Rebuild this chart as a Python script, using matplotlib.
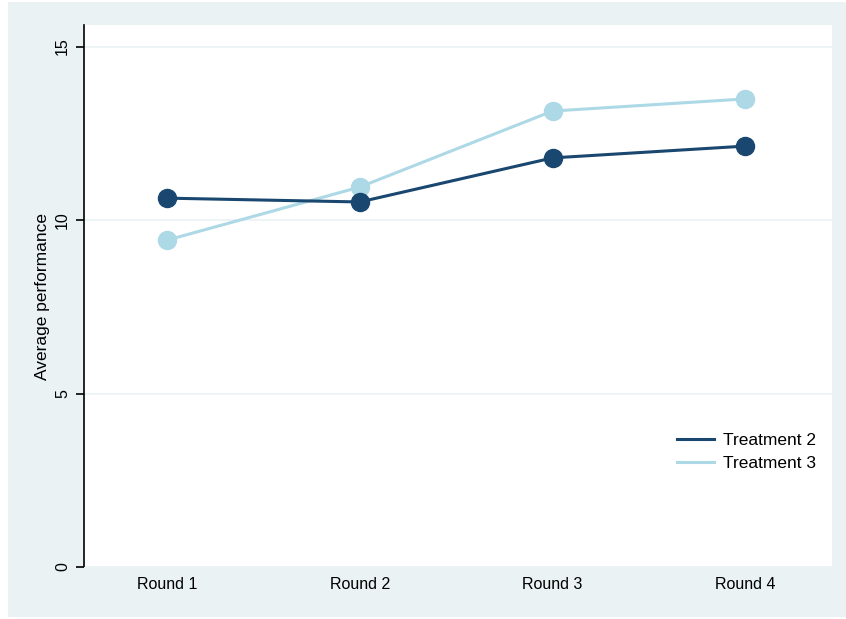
import numpy as np
import matplotlib.pyplot as plt
from matplotlib.patches import Rectangle

plt.rcParams['font.family'] = ['Liberation Sans', 'DejaVu Sans']

rounds = ['Round 1', 'Round 2', 'Round 3', 'Round 4']
treat2 = [10.63, 10.52, 11.79, 12.13]
treat3 = [9.42, 10.95, 13.14, 13.49]

navy = '#1a476f'
ltblue = '#add8e6'
bg = '#eaf2f3'

fig = plt.figure(figsize=(8.46, 6.19), dpi=100, facecolor='white')
# outer light panel
fig.patches.append(Rectangle((8 / 846, 2 / 619), 838 / 846, 615 / 619,
                             transform=fig.transFigure, facecolor=bg,
                             edgecolor='none', zorder=-10))

ax = fig.add_axes([84 / 846, 1 - 567 / 619, (832 - 84) / 846, (567 - 25) / 619])
ax.set_facecolor('white')

x = np.arange(1, len(rounds) + 1)
ax.plot(x, treat2, color=navy, lw=2.2, marker='o', ms=13, label='Treatment 2', zorder=3)
ax.plot(x, treat3, color=ltblue, lw=2.2, marker='o', ms=13, label='Treatment 3', zorder=2)

ax.set_xlim(0.569, 4.45)
ax.set_ylim(0, 15.62)
ax.set_yticks([0, 5, 10, 15])
ax.set_xticks(x)
ax.set_xticklabels(rounds)
ax.yaxis.grid(True, color=bg, lw=1.2)
ax.set_axisbelow(True)

for s in ['top', 'right']:
    ax.spines[s].set_visible(False)
ax.spines['bottom'].set_color(bg)
ax.spines['left'].set_color('black')
ax.spines['left'].set_linewidth(1.2)

ax.tick_params(axis='x', length=0, pad=7, labelsize=11.5)
ax.tick_params(axis='y', length=6, width=1.2, pad=4, labelsize=11.5)
for lbl in ax.get_yticklabels():
    lbl.set_rotation(90)
    lbl.set_va('center')

ax.set_ylabel('Average performance', fontsize=12.5, labelpad=4)

leg = ax.legend(loc='upper left', bbox_to_anchor=(0.793, 0.248), frameon=False,
                handlelength=2.1, handletextpad=0.55, fontsize=12.5,
                labelspacing=0.45, borderpad=0, borderaxespad=0)
for h in leg.get_lines():
    h.set_marker('')

fig.savefig('out.png', dpi=100, facecolor='white')
